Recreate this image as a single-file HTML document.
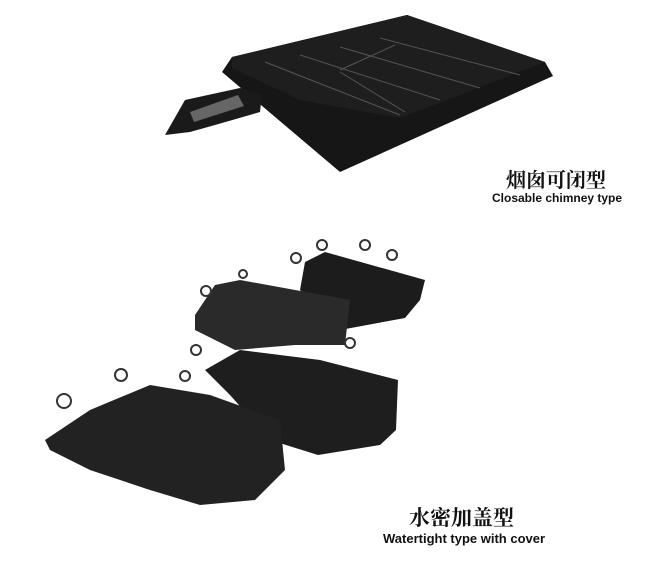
<!DOCTYPE html>
<html><head><meta charset="utf-8"><style>
body{margin:0;background:#fff;width:659px;height:580px;overflow:hidden;position:relative;font-family:"Liberation Sans","Noto Sans CJK SC",sans-serif}
.t{position:absolute;color:#111;font-weight:bold;white-space:nowrap}
</style></head><body>
<svg width="659" height="580" style="position:absolute;left:0;top:0">
<polygon points="232,57 407,15 545,62 553,76 340,172 222,72" fill="#161616"/>
<polygon points="232,57 407,15 545,62 400,118 300,100 232,68" fill="#1e1e1e"/>
<g stroke="#555" stroke-width="1" fill="none">
<line x1="265" y1="62" x2="400" y2="115"/><line x1="300" y1="55" x2="440" y2="100"/>
<line x1="340" y1="47" x2="480" y2="88"/><line x1="380" y1="38" x2="520" y2="75"/>
<line x1="340" y1="70" x2="395" y2="45"/><line x1="340" y1="72" x2="405" y2="112"/>
</g>
<polygon points="165,135 185,100 240,88 262,94 260,112 215,125 190,132" fill="#1a1a1a"/>
<polygon points="190,112 238,95 244,106 194,122" fill="#666"/>
<polygon points="305,262 325,252 425,280 420,300 405,318 340,330 300,290" fill="#1c1c1c"/>
<polygon points="195,315 215,285 240,280 350,300 345,345 295,345 235,350 195,330" fill="#2a2a2a"/>
<polygon points="205,370 240,350 320,360 398,380 396,430 380,445 318,455 270,440 230,395" fill="#1e1e1e"/>
<polygon points="45,440 90,410 150,385 210,395 280,420 285,470 255,500 200,505 150,490 90,470 50,450" fill="#222"/>
<g stroke="#333" stroke-width="2" fill="#fff">
<circle cx="322" cy="245" r="5"/><circle cx="365" cy="245" r="5"/><circle cx="392" cy="255" r="5"/>
<circle cx="296" cy="258" r="5"/><circle cx="243" cy="274" r="4"/><circle cx="206" cy="291" r="5"/>
<circle cx="196" cy="350" r="5"/><circle cx="350" cy="343" r="5"/><circle cx="185" cy="376" r="5"/>
<circle cx="121" cy="375" r="6"/><circle cx="64" cy="401" r="7"/>
</g>
</svg>
<div class="t" style="left:506px;top:164px;font-size:20px;font-family:'Noto Serif CJK SC',serif">烟囱可闭型</div>
<div class="t" style="left:492px;top:191px;font-size:12px">Closable chimney type</div>
<div class="t" style="left:409px;top:502px;font-size:21px;font-family:'Noto Serif CJK SC',serif">水密加盖型</div>
<div class="t" style="left:383px;top:531px;font-size:13px">Watertight type with cover</div>
</body></html>
